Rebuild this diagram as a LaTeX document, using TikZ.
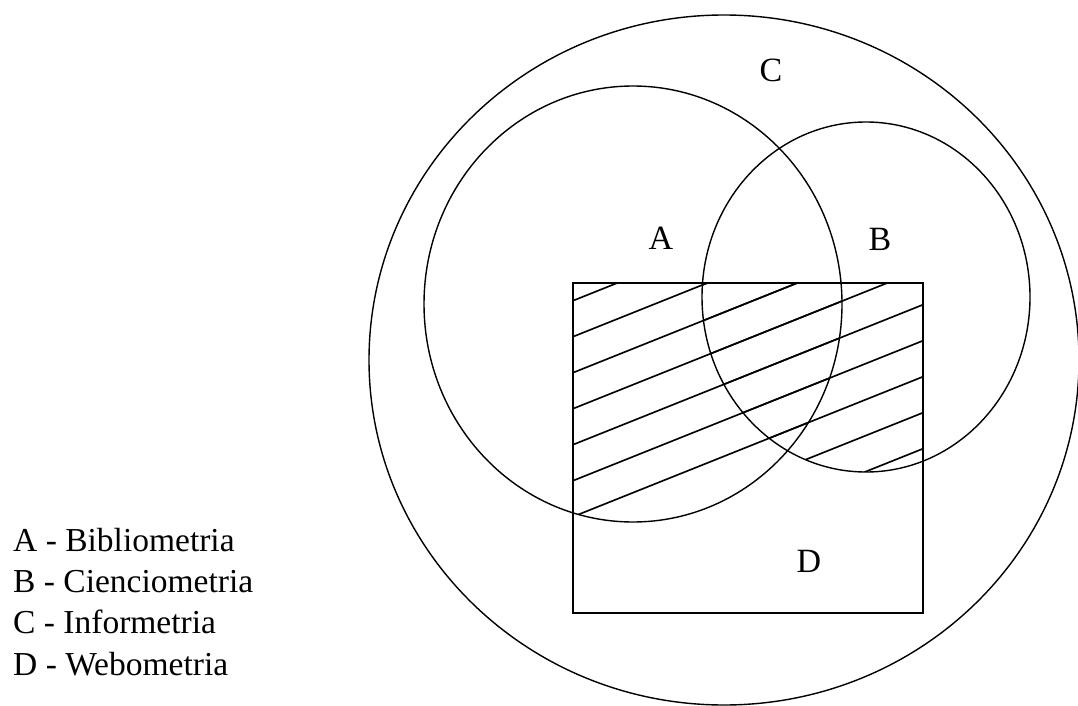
\documentclass[tikz,border=0pt]{standalone}
\usepackage{fontspec}
\setmainfont{Liberation Serif}
\usetikzlibrary{positioning}

\begin{document}
\begin{tikzpicture}[x=1pt, y=-1pt,
    ring/.style={draw=black, line width=1.4pt},
    frame/.style={draw=black, line width=2.8pt},
    hatch/.style={draw=black, line width=1.6pt},
    lbl/.style={font=\fontsize{34}{40}\selectfont, inner sep=0pt},
    legend/.style={font=\fontsize{33.5}{40}\selectfont, inner sep=0pt, anchor=base west},
]
\useasboundingbox (0,0) rectangle (1078,706);
\clip (0,0) rectangle (1078,706);

% hatching: D inside A or B
\begin{scope}
    \clip (573,283) rectangle (923,613);
    \clip (633,304) ellipse [x radius=209, y radius=218];
    \foreach \k in {0,...,6}
        \draw[hatch] (560,305.9+36*\k) -- (940,153.9+36*\k);
\end{scope}
\begin{scope}
    \clip (573,283) rectangle (923,613);
    \clip (866,297) ellipse [x radius=164, y radius=175];
    \foreach \k in {0,...,8}
        \draw[hatch] (560,305.9+36*\k) -- (940,153.9+36*\k);
\end{scope}

% sets
\draw[ring] (724,360) ellipse [x radius=355, y radius=345];
\draw[ring] (633,304) ellipse [x radius=209, y radius=218];
\draw[ring] (866,297) ellipse [x radius=164, y radius=175];
\draw[frame] (573,283) rectangle (923,613);

\node[lbl] (labC) at (771,70) {C};
\node[lbl] (labA) at (661,238) {A};
\node[lbl] (labB) at (880,239) {B};
\node[lbl] (labD) at (809,561) {D};

% legend
\node[legend] (legA) at (13,551) {A - Bibliometria};
\node[legend] (legB) at (13,592) {B - Cienciometria};
\node[legend] (legC) at (13,633) {C - Informetria};
\node[legend] (legD) at (13,675) {D - Webometria};
\end{tikzpicture}
\end{document}
